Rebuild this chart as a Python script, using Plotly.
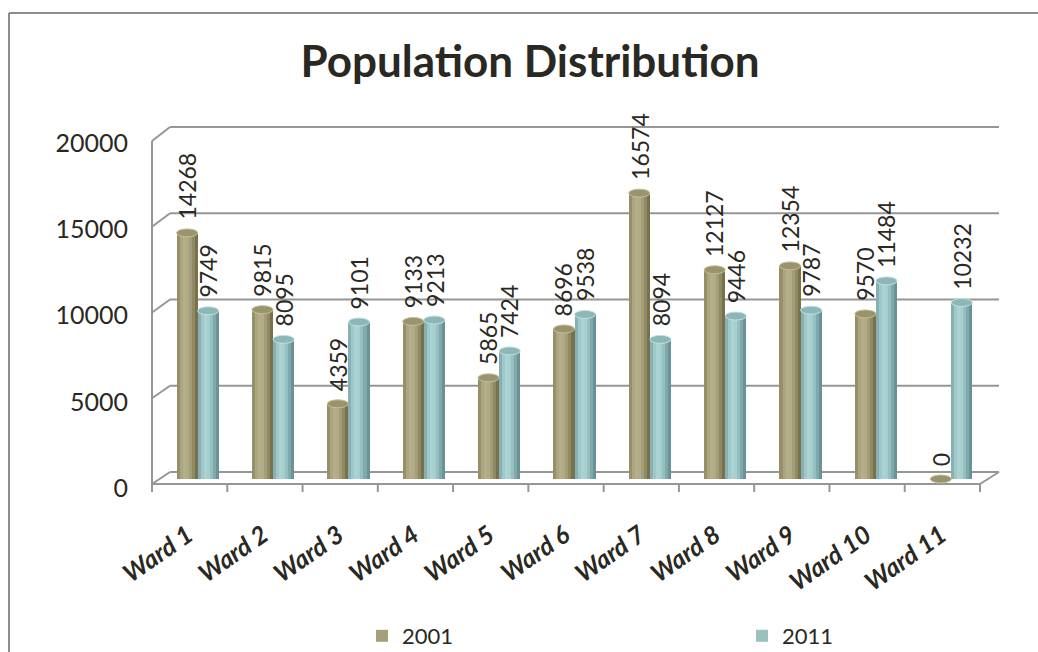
import plotly.graph_objects as go

# ---- data ----
wards = ["Ward 1", "Ward 2", "Ward 3", "Ward 4", "Ward 5", "Ward 6",
         "Ward 7", "Ward 8", "Ward 9", "Ward 10", "Ward 11"]
pop_2001 = [14268, 9815, 4359, 9133, 5865, 8696, 16574, 12127, 12354, 9570, 0]
pop_2011 = [9749, 8095, 9101, 9213, 7424, 9538, 8094, 9446, 9787, 11484, 10232]
years = ["2001", "2011"]
y_ticks = [0, 5000, 10000, 15000, 20000]

# ---- geometry (pixels) ----
W, H = 1038, 652
L, R = 160, 989            # plot area left / right
TOP, BOT = 134, 489        # plot area top / bottom
Y_MIN, Y_MAX = -580, 20000

def px(x):
    return (x - L) / (R - L)

def py(y):
    return (BOT - y) / (BOT - TOP)

TEXT = "#2a2822"
GRID = "#969696"
FONT = "Lato"

series = [pop_2001, pop_2011]
base_colors = ["#a6a078", "#9bc0c0"]
# left-to-right shading across each cylinder
shades = [
    ["#969068", "#aba680", "#b4af8a", "#b1ac86", "#a39e77", "#8f8a62", "#77724d"],
    ["#88b0b2", "#a0c8c9", "#acd3d3", "#a6cfcf", "#96bfc0", "#80a9ab", "#6a9397"],
]
cap_fill = ["#9a946c", "#8db6b7"]
cap_rim = ["#c4bf9a", "#c2e0e0"]
legend_ids = ["legend", "legend2"]
legend_x = [362, 742]

bw = 0.28
offsets = [-bw, 0.0]

fig = go.Figure()

for s, vals in enumerate(series):
    fig.add_trace(go.Bar(
        x=wards, y=vals, name=years[s], legend=legend_ids[s],
        marker=dict(color=base_colors[s], line=dict(width=0)),
        width=bw, offset=offsets[s],
    ))
    n = len(shades[s])
    for k, c in enumerate(shades[s]):
        fig.add_trace(go.Bar(
            x=wards, y=vals, showlegend=False, hoverinfo="skip",
            marker=dict(color=c, line=dict(width=0)),
            width=bw / n * 1.02, offset=offsets[s] + k * bw / n,
        ))

shapes = []
line_kw = dict(type="line", xref="paper", yref="paper", layer="below")

# chart frame
shapes.append(dict(line_kw, x0=px(9), y0=py(13), x1=px(W + 5), y1=py(13),
                   line=dict(color="#8c8c8c", width=2)))
shapes.append(dict(line_kw, x0=px(9), y0=py(13), x1=px(9), y1=py(H + 5),
                   line=dict(color="#8c8c8c", width=2)))

# back wall gridlines with their side-wall diagonals
for v in y_ticks:
    fy = 484 - v * 343 / 20000
    by = 472 - v * 345 / 20000
    shapes.append(dict(line_kw, x0=px(152), y0=py(fy), x1=px(170), y1=py(by),
                       line=dict(color=GRID, width=2)))
    shapes.append(dict(line_kw, x0=px(170), y0=py(by), x1=px(999), y1=py(by),
                       line=dict(color=GRID, width=2)))

# side wall front edge, floor front edge and floor right edge
shapes.append(dict(line_kw, x0=px(152), y0=py(492), x1=px(152), y1=py(141),
                   line=dict(color=GRID, width=2)))
shapes.append(dict(line_kw, x0=px(152), y0=py(484), x1=px(980), y1=py(484),
                   line=dict(color=GRID, width=2)))
shapes.append(dict(line_kw, x0=px(980), y0=py(484), x1=px(999), y1=py(472),
                   line=dict(color=GRID, width=2)))
for k in range(len(wards) + 1):
    tx = 152 + k * (980 - 152) / len(wards)
    shapes.append(dict(line_kw, x0=px(tx), y0=py(484), x1=px(tx), y1=py(492),
                       line=dict(color=GRID, width=2)))

# cylinder top caps
cap_h = 230
for s, vals in enumerate(series):
    for i, v in enumerate(vals):
        shapes.append(dict(type="circle", xref="x", yref="y", layer="above",
                           x0=i + offsets[s], x1=i + offsets[s] + bw,
                           y0=v - cap_h, y1=v + cap_h,
                           fillcolor=cap_fill[s],
                           line=dict(color=cap_rim[s], width=1)))

# vertical value labels
annotations = []
for s, vals in enumerate(series):
    for i, v in enumerate(vals):
        annotations.append(dict(
            x=i + offsets[s] + bw / 2, y=v, xref="x", yref="y",
            text=str(v), showarrow=False, textangle=-90,
            xanchor="center", yanchor="bottom", yshift=11,
            font=dict(family=FONT, size=23, color=TEXT),
        ))

legend_common = dict(orientation="h", xref="container", yref="container",
                     xanchor="left", y=(H - 636) / H, yanchor="middle",
                     font=dict(family=FONT, size=22, color=TEXT),
                     bgcolor="rgba(0,0,0,0)")

fig.update_layout(
    width=W, height=H, autosize=False,
    margin=dict(l=L, r=W - R, t=TOP, b=H - BOT, pad=0),
    paper_bgcolor="white", plot_bgcolor="rgba(0,0,0,0)",
    barmode="overlay", bargap=0,
    title=dict(text="Population Distribution", x=530 / W, xref="container",
               xanchor="center", y=1 - 62 / H, yref="container", yanchor="middle",
               font=dict(family=FONT, size=44, color=TEXT, weight="bold")),
    xaxis=dict(showgrid=False, showline=False, zeroline=False, ticks="",
               tickangle=-35, ticklabelstandoff=26, ticklabelshift=-10,
               tickfont=dict(family=FONT, size=25, color=TEXT,
                             weight="bold", style="italic")),
    yaxis=dict(range=[Y_MIN, Y_MAX], tickvals=y_ticks, tickformat="d",
               showgrid=False, showline=False, zeroline=False, ticks="",
               ticklabelstandoff=31, ticklabelshift=9,
               tickfont=dict(family=FONT, size=25, color=TEXT)),
    legend=dict(legend_common, x=legend_x[0] / W),
    legend2=dict(legend_common, x=legend_x[1] / W),
    shapes=shapes,
    annotations=annotations,
    showlegend=True,
)

fig.write_html("out.html")
